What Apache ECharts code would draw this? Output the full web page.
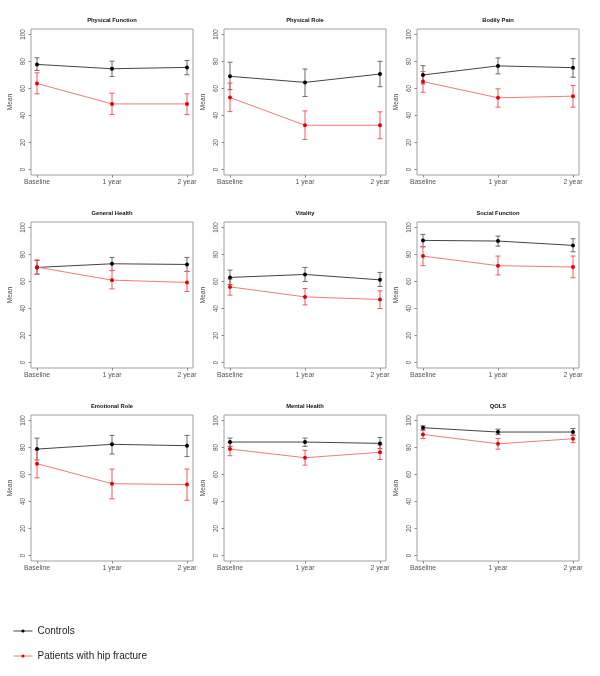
<!DOCTYPE html>
<html>
<head>
<meta charset="utf-8">
<script src="https://cdn.jsdelivr.net/npm/echarts@6/dist/echarts.min.js"></script>
<style>html,body{margin:0;padding:0;background:#fff}#c{width:600px;height:676px}</style>
</head>
<body>
<div id="c"></div>
<script>
const categories = ['Baseline', '1 year', '2 year'];
const panelTitles = ['Physical Function', 'Physical Role', 'Bodily Pain', 'General Health', 'Vitality', 'Social Function', 'Emotional Role', 'Mental Health', 'QOLS'];
const yTicks = [0, 20, 40, 60, 80, 100];
const seriesNames = ['Controls', 'Patients with hip fracture'];

const controlsMean = [
  [77.8, 74.6, 75.6], [69.0, 64.5, 70.7], [70.0, 76.7, 75.4],
  [70.4, 73.1, 72.6], [63.0, 65.2, 61.2], [90.4, 89.9, 86.7],
  [78.8, 82.3, 81.3], [84.0, 84.0, 83.0], [94.6, 91.4, 91.4]
];
const controlsLower = [
  [73.3, 68.9, 70.1], [59.1, 54.1, 61.3], [63.4, 70.8, 68.3],
  [65.5, 68.1, 67.4], [57.8, 60.0, 56.3], [85.7, 86.2, 82.0],
  [70.7, 75.1, 73.2], [80.8, 80.8, 79.1], [93.0, 89.5, 88.9]
];
const controlsUpper = [
  [82.7, 80.2, 80.7], [79.4, 74.4, 80.1], [76.9, 82.6, 82.1],
  [75.5, 77.8, 77.8], [68.4, 70.4, 66.7], [94.8, 93.6, 91.6],
  [86.9, 88.9, 88.9], [86.9, 86.9, 87.4], [96.0, 93.5, 94.0]
];
const patientsMean = [
  [63.7, 48.6, 48.6], [53.3, 32.8, 32.8], [65.1, 53.1, 54.3],
  [70.6, 61.0, 59.3], [56.0, 48.6, 46.7], [78.8, 71.7, 70.7],
  [68.0, 53.2, 52.5], [78.8, 72.4, 76.4], [89.6, 82.7, 86.4]
];
const patientsLower = [
  [56.0, 40.7, 40.7], [42.9, 22.3, 22.8], [57.2, 46.2, 46.2],
  [65.4, 54.6, 52.6], [49.9, 42.7, 40.0], [71.7, 64.8, 62.8],
  [57.5, 42.0, 40.9], [73.9, 66.9, 71.1], [86.6, 78.7, 83.6]
];
const patientsUpper = [
  [71.6, 56.5, 56.0], [64.0, 43.4, 42.7], [72.5, 59.7, 62.2],
  [76.0, 68.1, 67.4], [61.7, 54.8, 53.1], [85.7, 78.8, 78.8],
  [78.5, 64.0, 64.0], [83.7, 77.9, 81.7], [92.6, 86.7, 89.2]
];

const colLeft = [31, 224, 417];
const rowTop = [29, 222, 415];
const boxW = 162, boxH = 146;

function errorRender(color) {
  return function (params, api) {
    const x = api.value(0), lo = api.value(1), hi = api.value(2);
    const a = api.coord([x, lo]), b = api.coord([x, hi]);
    const w = 2.5;
    const style = { stroke: color, lineWidth: 1, fill: null };
    return {
      type: 'group',
      children: [
        { type: 'line', shape: { x1: a[0], y1: a[1], x2: b[0], y2: b[1] }, style: style },
        { type: 'line', shape: { x1: a[0] - w, y1: a[1], x2: a[0] + w, y2: a[1] }, style: style },
        { type: 'line', shape: { x1: b[0] - w, y1: b[1], x2: b[0] + w, y2: b[1] }, style: style }
      ]
    };
  };
}

const grids = [], xAxes = [], yAxes = [], titles = [], series = [];
panelTitles.forEach((t, i) => {
  const col = i % 3, row = Math.floor(i / 3);
  grids.push({
    left: colLeft[col], top: rowTop[row], width: boxW, height: boxH,
    show: true, borderColor: '#a0a0a0', borderWidth: 1, backgroundColor: 'transparent'
  });
  titles.push({
    text: t, left: colLeft[col] + boxW / 2, top: rowTop[row] - 12, textAlign: 'center', padding: 0,
    textStyle: { fontSize: 5.8, fontWeight: 'bold', color: '#111', fontFamily: 'Liberation Sans, Arial, sans-serif' }
  });
  xAxes.push({
    type: 'value', gridIndex: i, min: -0.08, max: 2.08, position: 'bottom',
    axisLine: { show: false, onZero: false },
    splitLine: { show: false },
    axisTick: { show: true, inside: false, length: 2.5, customValues: [0, 1, 2], lineStyle: { color: '#888' } },
    axisLabel: {
      customValues: [0, 1, 2], margin: 4, fontSize: 6.8, color: '#555',
      fontFamily: 'Liberation Sans, Arial, sans-serif',
      formatter: v => categories[Math.round(v)]
    }
  });
  yAxes.push({
    type: 'value', gridIndex: i, min: -4, max: 104, position: 'left',
    name: 'Mean', nameLocation: 'middle', nameGap: 17, nameRotate: 90,
    nameTextStyle: { fontSize: 6.5, color: '#444', fontFamily: 'Liberation Sans, Arial, sans-serif' },
    axisLine: { show: false, onZero: false },
    splitLine: { show: false },
    axisTick: { show: true, inside: false, length: 2.5, customValues: yTicks, lineStyle: { color: '#888' } },
    axisLabel: {
      customValues: yTicks, rotate: 90, margin: 4.5, fontSize: 6.3, color: '#555',
      fontFamily: 'Liberation Sans, Arial, sans-serif'
    }
  });
  series.push({
    type: 'custom', name: 'ctrlErr', xAxisIndex: i, yAxisIndex: i, silent: true,
    renderItem: errorRender('#6a6a6a'), encode: { x: 0, y: [1, 2] },
    data: categories.map((c, k) => [k, controlsLower[i][k], controlsUpper[i][k]]), z: 2
  });
  series.push({
    type: 'custom', name: 'patErr', xAxisIndex: i, yAxisIndex: i, silent: true,
    renderItem: errorRender('#ee5a5a'), encode: { x: 0, y: [1, 2] },
    data: categories.map((c, k) => [k, patientsLower[i][k], patientsUpper[i][k]]), z: 2
  });
  series.push({
    type: 'line', name: seriesNames[0], xAxisIndex: i, yAxisIndex: i,
    data: categories.map((c, k) => [k, controlsMean[i][k]]),
    symbol: 'circle', symbolSize: 4, showSymbol: true,
    lineStyle: { color: '#444', width: 1 }, itemStyle: { color: '#000' }, z: 3
  });
  series.push({
    type: 'line', name: seriesNames[1], xAxisIndex: i, yAxisIndex: i,
    data: categories.map((c, k) => [k, patientsMean[i][k]]),
    symbol: 'circle', symbolSize: 4, showSymbol: true,
    lineStyle: { color: '#f27a7a', width: 1 }, itemStyle: { color: '#e60000' }, z: 3
  });
});

const chart = echarts.init(document.getElementById('c'), null, { renderer: 'canvas' });
chart.setOption({
  animation: false,
  backgroundColor: '#fff',
  title: titles,
  grid: grids,
  xAxis: xAxes,
  yAxis: yAxes,
  legend: {
    data: seriesNames, orient: 'vertical', left: 13, top: 626, padding: 0,
    itemWidth: 19, itemHeight: 4, itemGap: 15, selectedMode: false,
    lineStyle: { width: 1 },
    textStyle: { fontSize: 10, color: '#222', fontFamily: 'Liberation Sans, Arial, sans-serif' }
  },
  series: series
});
</script>
</body>
</html>
